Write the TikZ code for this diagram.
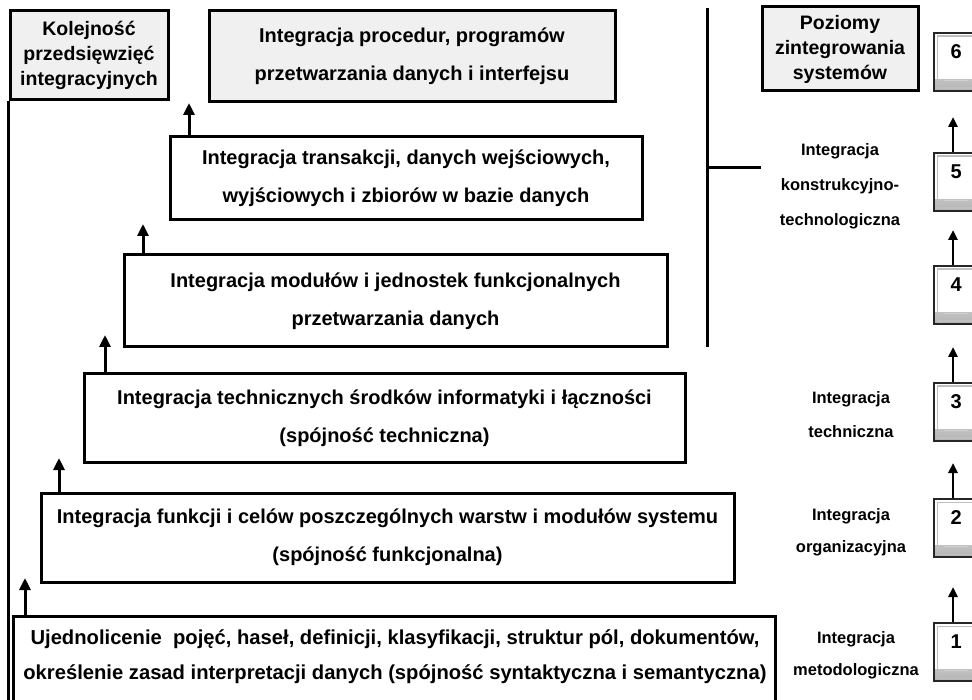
\documentclass[tikz,border=0pt]{standalone}
\usepackage{fontspec}
\setmainfont{Liberation Sans}
\usetikzlibrary{arrows.meta,calc}
\definecolor{headfill}{HTML}{F0F0F0}
\begin{document}
\begin{tikzpicture}[x=1pt,y=-1pt,
  rule/.style={line width=3pt},
  stage/.style={draw, line width=3pt, align=center, inner sep=0pt,
    font=\bfseries\fontsize{20}{38}\selectfont},
  headbox/.style={draw, line width=3pt, fill=headfill, align=center, inner sep=0pt,
    font=\bfseries\fontsize{19.5}{25}\selectfont},
  stagetext/.style={align=center, inner sep=0pt, font=\bfseries\fontsize{20.2}{35}\selectfont},
  levellabel/.style={align=center, inner sep=0pt, font=\bfseries\fontsize{16.5}{35}\selectfont},
  up/.style={line width=3pt, -{Triangle[length=12pt,width=11pt]}},
  smallup/.style={line width=2.5pt, -{Triangle[length=10pt,width=9pt]}},
  levelbox/.style={anchor=north west, minimum width=44, minimum height=58,
    text height=20pt, text depth=28pt, inner xsep=0pt, inner ysep=5pt,
    text width=40pt, align=center,
    draw=black!85, line width=2.2pt, fill=white,
    font=\bfseries\fontsize{20}{22}\selectfont,
    path picture={
      \shade[top color=white, bottom color=black!30]
        ($(path picture bounding box.south west)+(0,-12)$) rectangle
        (path picture bounding box.south east);
      \draw[black!25, line width=1.2pt]
        ($(path picture bounding box.north west)+(3,3)$) rectangle
        ($(path picture bounding box.south east)+(-3,-3)$);
      \draw[black!18, line width=1pt]
        ($(path picture bounding box.south west)+(10,-11)$) --
        ($(path picture bounding box.south east)+(-10,-11)$);
    }},
]
\useasboundingbox (0,0) rectangle (972,700);

% ---- left column: header and the stair of integration stages ----
\node[headbox, minimum width=158, minimum height=89] (kol) at (89,55.5)
  {Kolejność\\przedsięwzięć\\integracyjnych};
\draw[rule] (kol.south west) -- ++(0,610);

\node[stage, fill=headfill, minimum width=406, minimum height=91] (s6) at (412,56.5)
  {Integracja procedur, programów\\przetwarzania danych i interfejsu};
\node[stage, minimum width=472, minimum height=83] (s5) at (406,178.5)
  {Integracja transakcji, danych wejściowych,\\wyjściowych i zbiorów w bazie danych};
\node[stage, minimum width=543, minimum height=92] (s4) at (395.5,301)
  {Integracja modułów i jednostek funkcjonalnych\\przetwarzania danych};
\node[stage, minimum width=601, minimum height=88] (s3) at (384.5,418)
  {Integracja technicznych środków informatyki i łączności\\(spójność techniczna)};
\node[stage, minimum width=693, minimum height=89] (s2) at (387.5,537.5)
  {Integracja funkcji i celów poszczególnych warstw i modułów systemu\\(spójność funkcjonalna)};
\node[draw, line width=3pt, minimum width=762, minimum height=100, inner sep=0pt] (s1) at (394,666) {};
\node[stagetext] (s1text) at (395,657)
  {Ujednolicenie\ \ pojęć, haseł, definicji, klasyfikacji, struktur pól, dokumentów,\\
   określenie zasad interpretacji danych (spójność syntaktyczna i semantyczna)};

% arrows leading up the stair
\coordinate (t6) at (189,103);
\coordinate (t5) at (143,224);
\coordinate (t4) at (105,335);
\coordinate (t3) at (59,458);
\coordinate (t2) at (25,578);
\draw[up] (t6 |- s5.north) -- (t6);
\draw[up] (t5 |- s4.north) -- (t5);
\draw[up] (t4 |- s3.north) -- (t4);
\draw[up] (t3 |- s2.north) -- (t3);
\draw[up] (t2 |- s1.north) -- (t2);

% bracket grouping the upper three stages
\coordinate (brtop) at (707,8);
\coordinate (brbot) at (707,347);
\coordinate (brtick) at (707,168);
\draw[rule] (brtop) -- (brbot);

% ---- right column: levels of system integration ----
\node[headbox, minimum width=156, minimum height=84] (poz) at (840,49)
  {Poziomy\\zintegrowania\\systemów};
\draw[rule] (brtick) -- (brtick -| poz.west);

\node[levellabel] (lk) at (840,186) {Integracja\\konstrukcyjno-\\technologiczna};
\node[levellabel, font=\bfseries\fontsize{16.5}{34}\selectfont] (lt) at (851,415) {Integracja\\techniczna};
\node[levellabel, font=\bfseries\fontsize{16.5}{32}\selectfont] (lo) at (851,532) {Integracja\\organizacyjna};
\node[levellabel, font=\bfseries\fontsize{16.5}{32}\selectfont] (lm) at (856,655) {Integracja\\metodologiczna};

\node[levelbox] (n6) at (933,32) {6};
\node[levelbox] (n5) at (933,152) {5};
\node[levelbox] (n4) at (933,265) {4};
\node[levelbox] (n3) at (933,382) {3};
\node[levelbox] (n2) at (933,498) {2};
\node[levelbox] (n1) at (933,622) {1};

\coordinate (u5) at (953,117);
\coordinate (u4) at (953,230);
\coordinate (u3) at (953,347);
\coordinate (u2) at (953,463);
\coordinate (u1) at (953,587);
\draw[smallup] (u5 |- n5.north) -- (u5);
\draw[smallup] (u4 |- n4.north) -- (u4);
\draw[smallup] (u3 |- n3.north) -- (u3);
\draw[smallup] (u2 |- n2.north) -- (u2);
\draw[smallup] (u1 |- n1.north) -- (u1);
\end{tikzpicture}
\end{document}
